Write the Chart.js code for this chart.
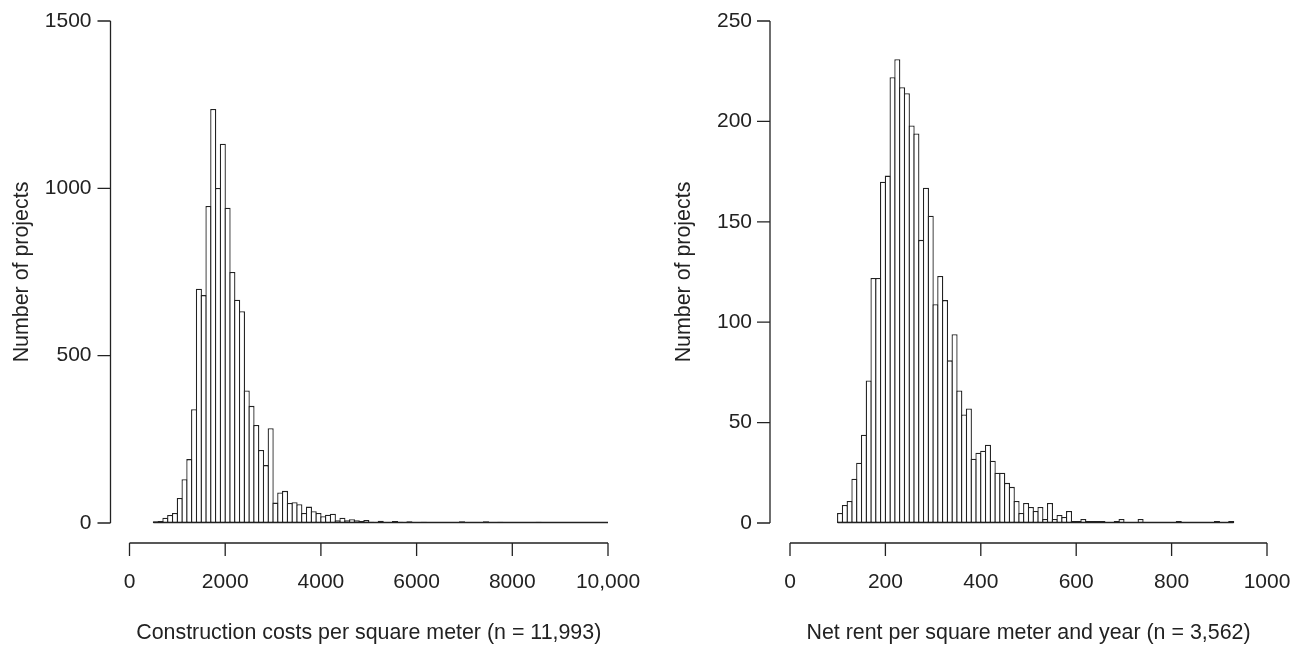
<!DOCTYPE html>
<html lang="en">
<head>
<meta charset="utf-8">
<title>Construction costs and net rent histograms</title>
<script src="https://cdn.jsdelivr.net/npm/chart.js@4.4.1/dist/chart.umd.min.js"></script>
<style>
  html, body { margin: 0; padding: 0; background: #fff; }
  #wrap { position: relative; width: 1303px; height: 647px; overflow: hidden; }
  #costChart { position: absolute; left: 0; top: 0; }
  #rentChart { position: absolute; left: 651px; top: 0; }
</style>
</head>
<body>
<div id="wrap">
  <canvas id="costChart" width="651" height="647"></canvas>
  <canvas id="rentChart" width="652" height="647"></canvas>
</div>
<script>
'use strict'

// *********DATA***********

// construction costs: bins of 100 starting at 500
let costFirstBin = 500;
let costBinWidth = 100;
let costCounts = [
  5, 6, 16, 24, 30, 75, 131, 191, 340, 700,
  681, 947, 1237, 1001, 1133, 942, 750, 667, 633, 396,
  350, 293, 218, 173, 283, 61, 91, 96, 60, 62,
  56, 30, 49, 35, 30, 20, 25, 28, 8, 16,
  8, 11, 8, 6, 9, 4, 3, 7, 3, 2,
  6, 4, 2, 5, 3, 2, 4, 2, 3, 1,
  2, 3, 1, 2, 5, 2, 1, 2, 1, 5,
  3, 1, 4, 1, 2, 1, 1, 2, 1, 1,
  4, 1, 1, 3, 1, 1, 2, 1, 1, 1,
  2, 1, 1, 1, 3
];
let costYTicks = ['0', '500', '1000', '1500'];
let costXTicks = ['0', '2000', '4000', '6000', '8000', '10,000'];
let costTitle = 'Construction costs per square meter (n = 11,993)';

// net rent: bins of 10 starting at 100
let rentFirstBin = 100;
let rentBinWidth = 10;
let rentCounts = [
  5, 9, 11, 22, 30, 44, 71, 122, 122, 170,
  173, 222, 231, 217, 214, 198, 194, 141, 167, 153,
  109, 123, 111, 81, 94, 66, 54, 57, 32, 35,
  36, 39, 31, 25, 25, 20, 18, 11, 5, 10,
  8, 6, 8, 2, 10, 2, 4, 3, 6, 1,
  1, 2, 1, 1, 1, 1, 0, 0, 1, 2,
  0, 0, 0, 2, 0, 0, 0, 0, 0, 0,
  0, 1, 0, 0, 0, 0, 0, 0, 0, 1,
  0, 0, 1
];
let rentYTicks = ['0', '50', '100', '150', '200', '250'];
let rentXTicks = ['0', '200', '400', '600', '800', '1000'];
let rentTitle = 'Net rent per square meter and year (n = 3,562)';

let yTitle = 'Number of projects';


// *********STYLE***********

let ink = '#222';
let fontFamily = '"Liberation Sans", Arial, Helvetica, sans-serif';
let tickSize = 21;
let titleSize = 21.4;
let barLine = 1.3;


// ********HELPER FUNCTIONS*********

// turn bin counts into {x, y} points at the bin centres
function toPoints(firstBin, binWidth, counts){
  let points = [];
  for(let i = 0; i < counts.length; i++){
    points.push({x: firstBin + binWidth * (i + 0.5), y: counts[i]});
  }
  return points;
}

// the tick label padding must not shrink the plot region
function dropScalePadding(scale){
  scale.paddingTop = 0;
  scale.paddingBottom = 0;
  scale.paddingLeft = 0;
  scale.paddingRight = 0;
}

// R style axes: detached from the plot region
let detachedAxes = {
  id: 'detachedAxes',
  afterDatasetsDraw(chart, args, opts){
    let ctx = chart.ctx;
    let xs = chart.scales.x;
    let ys = chart.scales.y;
    let area = chart.chartArea;
    ctx.save();
    ctx.strokeStyle = ink;

    // baseline under the histogram, also under empty bins
    let first = opts.firstBin;
    let last = opts.firstBin + opts.binWidth * opts.binCount;
    ctx.lineWidth = barLine;
    ctx.beginPath();
    ctx.moveTo(xs.getPixelForValue(first), ys.getPixelForValue(0) - 0.5);
    ctx.lineTo(xs.getPixelForValue(last), ys.getPixelForValue(0) - 0.5);
    ctx.stroke();

    ctx.lineWidth = 1.3;

    // y axis
    let axisX = area.left - opts.yGap;
    ctx.beginPath();
    ctx.moveTo(axisX, ys.getPixelForValue(ys.min));
    ctx.lineTo(axisX, ys.getPixelForValue(ys.max));
    ys.ticks.forEach(function(t){
      let py = ys.getPixelForValue(t.value);
      ctx.moveTo(axisX, py);
      ctx.lineTo(axisX - opts.tickLen, py);
    });
    ctx.stroke();

    // x axis
    let axisY = area.bottom + opts.xGap;
    ctx.beginPath();
    ctx.moveTo(xs.getPixelForValue(xs.min), axisY);
    ctx.lineTo(xs.getPixelForValue(xs.max), axisY);
    xs.ticks.forEach(function(t){
      let px = xs.getPixelForValue(t.value);
      ctx.moveTo(px, axisY);
      ctx.lineTo(px, axisY + opts.tickLen);
    });
    ctx.stroke();
    ctx.restore();
  }
};


// *********CHART RENDER**********

function renderHistogram(canvasId, cfg){
  let ctx = document.getElementById(canvasId);

  let myChartObj = {
    type: 'bar',
    data: {
      datasets: [{
        data: toPoints(cfg.firstBin, cfg.binWidth, cfg.counts),
        backgroundColor: '#fff',
        borderColor: ink,
        borderWidth: barLine,
        borderSkipped: false,
        inflateAmount: 0,
        barPercentage: 1.27,
        categoryPercentage: 1
      }]
    },
    options: {
      responsive: false,
      animation: false,
      events: [],
      layout: {
        padding: {left: 0, top: 21, right: cfg.rightPad, bottom: 0}
      },
      plugins: {
        legend: {display: false},
        tooltip: {enabled: false},
        detachedAxes: {
          firstBin: cfg.firstBin,
          binWidth: cfg.binWidth,
          binCount: cfg.counts.length,
          yGap: cfg.yGap,
          xGap: 20,
          tickLen: 13
        }
      },
      scales: {
        x: {
          type: 'linear',
          min: 0,
          max: cfg.xMax,
          offset: false,
          grid: {display: false, drawTicks: false},
          border: {display: false},
          ticks: {
            stepSize: cfg.xMax / (cfg.xTicks.length - 1),
            color: ink,
            padding: 47,
            maxRotation: 0,
            autoSkip: false,
            font: {family: fontFamily, size: tickSize},
            callback: function(value, index){ return cfg.xTicks[index]; }
          },
          title: {
            display: true,
            text: cfg.title,
            color: ink,
            padding: {top: 0, bottom: 1},
            font: {family: fontFamily, size: titleSize}
          },
          afterFit: function(scale){
            scale.height = 124;
            dropScalePadding(scale);
          }
        },
        y: {
          min: 0,
          max: cfg.yMax,
          grid: {display: false, drawTicks: false},
          border: {display: false},
          ticks: {
            stepSize: cfg.yMax / (cfg.yTicks.length - 1),
            color: ink,
            padding: 38,
            autoSkip: false,
            font: {family: fontFamily, size: tickSize},
            callback: function(value, index){ return cfg.yTicks[index]; }
          },
          title: {
            display: true,
            text: yTitle,
            color: ink,
            padding: {top: cfg.yTitlePad, bottom: 0},
            font: {family: fontFamily, size: titleSize}
          },
          afterFit: function(scale){
            scale.width = cfg.leftWidth;
            dropScalePadding(scale);
          }
        }
      }
    },
    plugins: [detachedAxes]
  };
  return new Chart(ctx, myChartObj);
}

renderHistogram('costChart', {
  firstBin: costFirstBin,
  binWidth: costBinWidth,
  counts: costCounts,
  xMax: 10000,
  yMax: 1500,
  xTicks: costXTicks,
  yTicks: costYTicks,
  title: costTitle,
  leftWidth: 129.5,
  rightPad: 43,
  yGap: 19,
  yTitlePad: 9
});

renderHistogram('rentChart', {
  firstBin: rentFirstBin,
  binWidth: rentBinWidth,
  counts: rentCounts,
  xMax: 1000,
  yMax: 250,
  xTicks: rentXTicks,
  yTicks: rentYTicks,
  title: rentTitle,
  leftWidth: 139,
  rightPad: 36,
  yGap: 20,
  yTitlePad: 20
});
</script>
</body>
</html>
